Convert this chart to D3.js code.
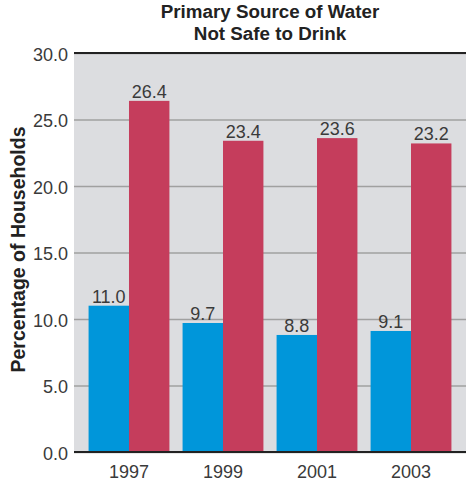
<!DOCTYPE html>
<html>
<head>
<meta charset="utf-8">
<script src="https://cdn.jsdelivr.net/npm/d3@7/dist/d3.min.js"></script>
<style>
  body { margin: 0; background: #fff; }
</style>
</head>
<body>
<svg id="chart"></svg>
<script>
const years = ['1997', '1999', '2001', '2003'];
const seriesKeys = ['blue', 'red'];
const blueValues = [11.0, 9.7, 8.8, 9.1];
const redValues = [26.4, 23.4, 23.6, 23.2];
const yTicks = [0, 5, 10, 15, 20, 25, 30];
const titleLines = ['Primary Source of Water', 'Not Safe to Drink'];
const yTitle = 'Percentage of Households';

const width = 467, height = 487;
const plot = { left: 74, right: 466, top: 53, bottom: 452 };
const colors = { blue: '#0096da', red: '#c53d5c' };
const numFont = 'Liberation Sans, Arial, sans-serif';

const svg = d3.select('#chart')
  .attr('width', width)
  .attr('height', height);

const x = d3.scaleBand()
  .domain(years)
  .range([plot.left, plot.right])
  .paddingInner(0.14)
  .paddingOuter(0.155);

const xs = d3.scaleBand()
  .domain(seriesKeys)
  .range([0, x.bandwidth()]);

const y = d3.scaleLinear()
  .domain([0, 30])
  .range([plot.bottom, plot.top]);

// background
svg.append('rect')
  .attr('x', plot.left)
  .attr('y', plot.top)
  .attr('width', plot.right - plot.left)
  .attr('height', plot.bottom - plot.top)
  .attr('fill', '#dcdde0');

// grid lines + labels
const yAxis = d3.axisLeft(y)
  .tickValues(yTicks)
  .tickSize(-(plot.right - plot.left))
  .tickPadding(6)
  .tickFormat(d3.format('.1f'));
const gY = svg.append('g')
  .attr('transform', 'translate(' + plot.left + ',0)')
  .call(yAxis);
gY.select('.domain').remove();
gY.selectAll('.tick line')
  .attr('stroke', '#a0a0a0')
  .attr('stroke-width', 1.3);
gY.selectAll('.tick text')
  .attr('fill', '#3a3a3a')
  .attr('font-family', numFont)
  .attr('font-size', '18px')
  .attr('dy', '0.4em');

// bars
const rows = years.map((yr, i) => ({ year: yr, blue: blueValues[i], red: redValues[i] }));
const groups = svg.selectAll('g.grp')
  .data(rows)
  .enter()
  .append('g')
  .attr('class', 'grp')
  .attr('transform', d => 'translate(' + x(d.year) + ',0)');

groups.selectAll('rect')
  .data(d => seriesKeys.map(k => ({ key: k, value: d[k] })))
  .enter()
  .append('rect')
  .attr('x', d => xs(d.key))
  .attr('y', d => y(d.value))
  .attr('width', xs.bandwidth())
  .attr('height', d => y(0) - y(d.value))
  .attr('fill', d => colors[d.key]);

groups.selectAll('text')
  .data(d => seriesKeys.map(k => ({ key: k, value: d[k] })))
  .enter()
  .append('text')
  .attr('x', d => xs(d.key) + xs.bandwidth() / 2)
  .attr('y', d => y(d.value) - 3)
  .attr('text-anchor', 'middle')
  .attr('fill', '#3a3a3a')
  .attr('font-family', numFont)
  .attr('font-size', '18px')
  .text(d => d3.format('.1f')(d.value));

// top line and baseline
svg.append('line')
  .attr('x1', plot.left).attr('x2', plot.right)
  .attr('y1', y(30)).attr('y2', y(30))
  .attr('stroke', '#222').attr('stroke-width', 2);
svg.append('line')
  .attr('x1', plot.left).attr('x2', plot.right)
  .attr('y1', y(0)).attr('y2', y(0))
  .attr('stroke', '#222').attr('stroke-width', 2);

// x labels
const xAxis = d3.axisBottom(x).tickSize(0).tickPadding(13);
const gX = svg.append('g')
  .attr('transform', 'translate(0,' + plot.bottom + ')')
  .call(xAxis);
gX.select('.domain').remove();
gX.selectAll('.tick text')
  .attr('fill', '#3a3a3a')
  .attr('font-family', numFont)
  .attr('font-size', '18px');

// title
svg.append('text')
  .attr('x', (plot.left + plot.right) / 2)
  .attr('y', 18)
  .attr('text-anchor', 'middle')
  .attr('font-family', 'Liberation Sans, Arial, sans-serif')
  .attr('font-weight', 'bold')
  .attr('font-size', '18.8px')
  .attr('fill', '#222')
  .selectAll('tspan')
  .data(titleLines)
  .enter()
  .append('tspan')
  .attr('x', (plot.left + plot.right) / 2)
  .attr('dy', (d, i) => i === 0 ? 0 : 22)
  .text(d => d);

// y title
svg.append('text')
  .attr('transform', 'translate(25,' + ((plot.top + plot.bottom) / 2 - 3) + ') rotate(-90)')
  .attr('text-anchor', 'middle')
  .attr('font-family', 'Liberation Sans, Arial, sans-serif')
  .attr('font-weight', 'bold')
  .attr('font-size', '19.5px')
  .attr('fill', '#222')
  .text(yTitle);
</script>
</body>
</html>
